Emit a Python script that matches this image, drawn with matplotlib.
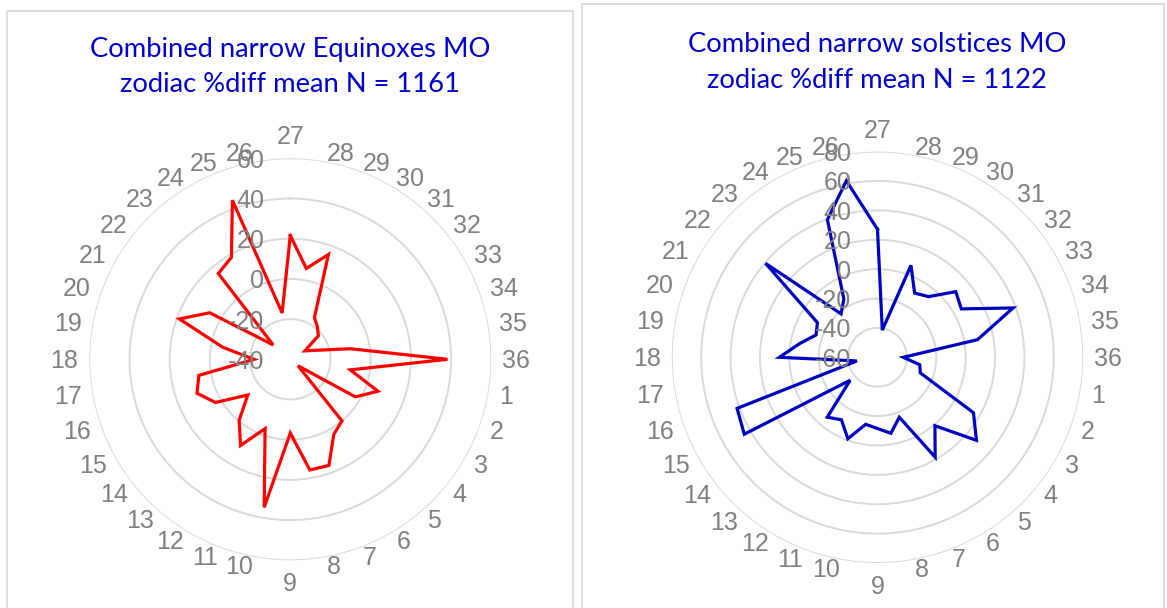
import numpy as np
import matplotlib
matplotlib.use("Agg")
import matplotlib.pyplot as plt
from matplotlib.patches import Rectangle
from matplotlib import transforms

# ---------------- data ----------------
categories = [27, 28, 29, 30, 31, 32, 33, 34, 35, 36,
              1, 2, 3, 4, 5, 6, 7, 8, 9, 10, 11, 12, 13, 14, 15, 16, 17, 18,
              19, 20, 21, 22, 23, 24, 25, 26]

equinox_values = [21.6, 5.9, 15.5, -16, -19, -21.8, -31.6, -27, -9.7, 38.2,
                  -9.7, 6.4, -2.6, -35, 0, 3.2, 16.2, 15.9, -3.3,
                  34.8, -3.3, 9.5, -0.4, -12.4, 3, 9.4, 6.2, -22,
                  -6, 18.7, 6.3, -28.9, 15.7, 18.6, 44.2, -16.6]

solstice_values = [27.1, -41.2, 6.6, -9.5, -6.1, 9.5, 5.9, 38.2, 9.1, -42.4,
                   -30.8, -29, 15.4, 27.9, 0.8, 18.5, -16.6, -7.5, -11.5,
                   -13.7, -1, -10.9, -6.8, -35.7, 44.7, 41.7, -45.7, 6.8,
                   -6.2, -15.5, -12.8, 39.5, -21.4, -14.2, 39.7, 62]

equinox_ticks = [-40, -20, 0, 20, 40, 60]
solstice_ticks = [-60, -40, -20, 0, 20, 40, 60, 80]

equinox_title = "Combined narrow Equinoxes MO\nzodiac %diff mean N = 1161"
solstice_title = "Combined narrow solstices MO\nzodiac %diff mean N = 1122"

# ---------------- style ----------------
W, H = 1167, 608
DPI = 100
GRAY = "#808080"
GRID = "#D9D9D9"
TITLE_BLUE = "#0000CC"
LABEL_SIZE = 18
CAP = 17        # digit height in px
SIDE_GAP = 11   # px
AXIAL_GAP = 14  # px

fig = plt.figure(figsize=(W / DPI, H / DPI), dpi=DPI)
fig.patch.set_facecolor("white")

# panel borders (figure pixels)
def panel(x0, y0, x1, y1):
    fig.patches.append(Rectangle((x0 / W, 1 - y1 / H), (x1 - x0) / W, (y1 - y0) / H,
                                 transform=fig.transFigure, fill=False,
                                 edgecolor=GRID, linewidth=1.3))

panel(7, 11, 573, 640)
panel(582, 4, 1164, 640)


def radar(cx, cy, radius, values, ticks, color, title, title_xy):
    ax = fig.add_axes([(cx - radius) / W, 1 - (cy + radius) / H, 2 * radius / W, 2 * radius / H],
                      projection="polar")
    ax.set_theta_zero_location("N")
    ax.set_theta_direction(-1)
    n = len(categories)
    angles = np.arange(n) * 2 * np.pi / n
    ax.set_ylim(ticks[0], ticks[-1])
    ax.set_yticks(ticks[1:])
    ax.set_yticklabels([])
    ax.set_xticks(angles)
    ax.set_xticklabels([])
    ax.tick_params(axis="x", length=0)
    ax.xaxis.grid(False)
    ax.yaxis.grid(True, color=GRID, linewidth=1.4)
    ax.spines["polar"].set_visible(False)
    ax.set_facecolor("none")

    vals = list(values) + [values[0]]
    angs = list(angles) + [angles[0]]
    ax.plot(angs, vals, color=color, linewidth=2.3, solid_joinstyle="miter", zorder=3)

    # category labels, Excel-like placement around the outer ring
    rmax = ticks[-1]
    for th, cat in zip(angles, categories):
        s, c = np.sin(th), np.cos(th)
        if abs(s) < 1e-6:
            ha = "center"
            dx = 0
            if c > 0:
                dy = AXIAL_GAP
            else:
                dy = -(AXIAL_GAP + CAP)
        else:
            ha = "left" if s > 0 else "right"
            dx = SIDE_GAP * s
            dy = -(CAP / 2) * (1 - c)
        tr = transforms.offset_copy(ax.transData, fig=fig, x=dx, y=dy, units="dots")
        ax.text(th, rmax, str(cat), transform=tr, ha=ha, va="baseline",
                fontsize=LABEL_SIZE, color=GRAY, family="Liberation Sans",
                clip_on=False, zorder=4)

    off = transforms.offset_copy(ax.transData, fig=fig, x=-26, y=0, units="dots")
    for t in ticks:
        ax.text(0, t, str(t), transform=off, ha="right", va="center_baseline",
                fontsize=LABEL_SIZE, color=GRAY, family="Liberation Sans", zorder=4)

    fig.text(title_xy[0] / W, 1 - title_xy[1] / H, title, ha="center", va="center",
             fontsize=19.7, color=TITLE_BLUE, family="Lato", linespacing=1.55)
    return ax


radar(290.3, 359.3, 201, equinox_values, equinox_ticks, "#FF0000", equinox_title, (290, 67))
radar(877.5, 357.3, 205.7, solstice_values, solstice_ticks, "#0000C0", solstice_title, (877, 62))

fig.savefig("out.png", dpi=DPI, facecolor="white")
